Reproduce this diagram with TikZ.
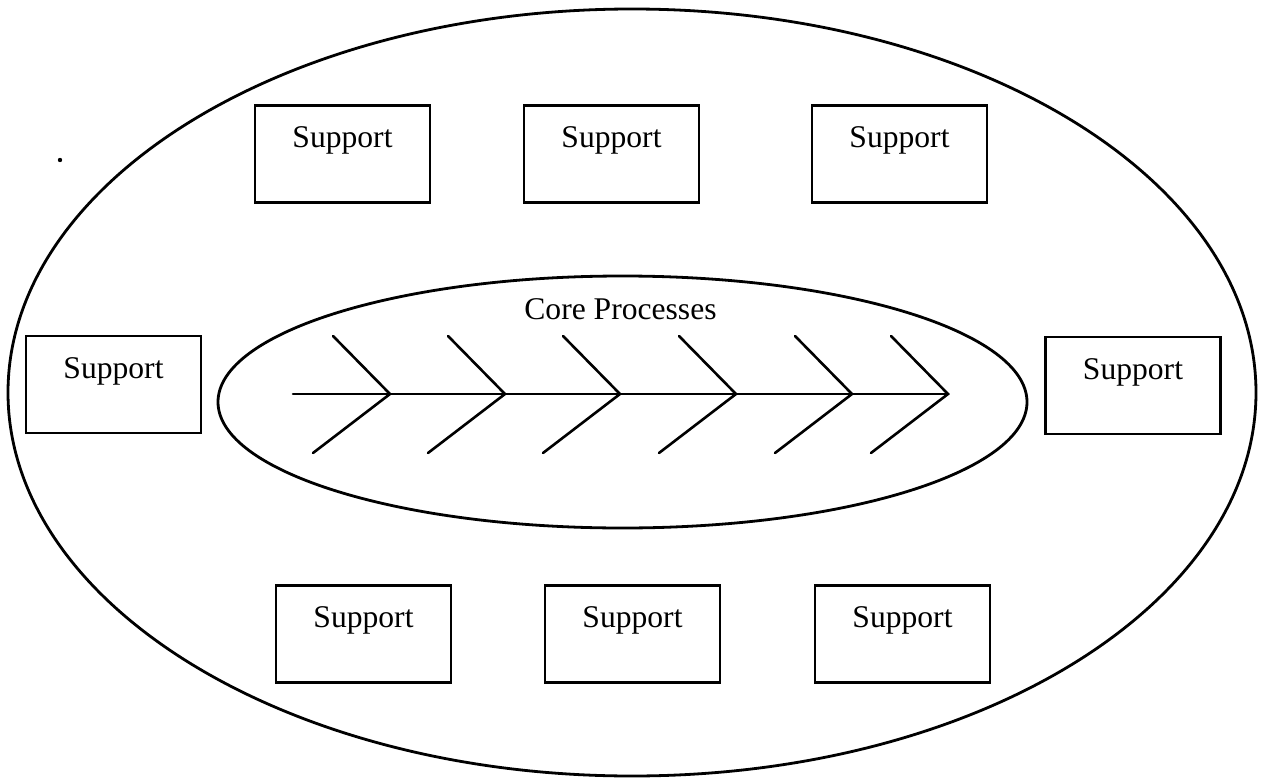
\documentclass[tikz,border=0pt]{standalone}
\usepackage{fontspec}
\setmainfont{Liberation Serif}
\usetikzlibrary{shapes.geometric}

\tikzset{
  ring/.style={draw, ellipse, line width=2.8pt, inner sep=0pt, outer sep=0pt},
  supportbox/.style={draw, rectangle, line width=2.4pt, minimum width=175pt,
                     minimum height=97pt, inner sep=0pt, outer sep=0pt},
  boxlabel/.style={anchor=base, inner sep=0pt, font=\fontsize{31.6}{38}\selectfont},
  bone/.style={line width=2.6pt, line cap=round, line join=miter},
}

\begin{document}
\begin{tikzpicture}[x=1pt, y=-1pt]
  \useasboundingbox (0,0) rectangle (1262,779);

  % outer and inner ellipses
  \node[ring, minimum width=1248pt, minimum height=767pt] (outer) at (632,392.5) {};
  \node[ring, minimum width=809pt, minimum height=252pt] (core) at (622.5,402) {};

  % stray mark on the left
  \fill (60,160) circle (2.2pt);

  % support boxes: top row, sides, bottom row
  \foreach \name/\cx/\cy in {s1/342.5/154, s2/611.5/154, s3/899.5/154,
                             s4/113.5/384.5, s5/1133/385.5,
                             s6/363.5/634, s7/632.5/634, s8/902.5/634} {
    \node[supportbox] (\name) at (\cx,\cy) {};
    \node[boxlabel] (\name-t) at ([yshift=-42pt]\name.north) {Support};
  }

  % title of the core processes
  \node[boxlabel] (title) at (620.5,319) {Core Processes};

  % fishbone: spine with six chevrons
  \coordinate (tail) at (293,394);
  \foreach \i/\vx in {1/390, 2/505, 3/620, 4/736, 5/852, 6/948} {
    \coordinate (v\i) at (\vx,394);
    \coordinate (u\i) at (\vx-57,336);
    \coordinate (l\i) at (\vx-77,453);
    \draw[bone] (u\i) -- (v\i) -- (l\i);
  }
  \draw[bone] (tail) -- (v6);
\end{tikzpicture}
\end{document}
